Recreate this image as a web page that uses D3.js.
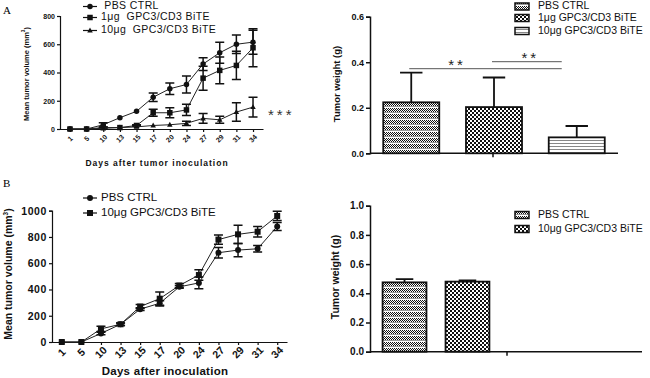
<!DOCTYPE html>
<html>
<head>
<meta charset="utf-8">
<script src="https://cdn.jsdelivr.net/npm/d3@7/dist/d3.min.js"></script>
<style>
	body { margin: 0; background: #fff; }
	svg { display: block; }
	.tick text { font-family: 'Liberation Sans', Arial, sans-serif; font-weight: bold; fill: #111; }
	.leg { font-family: 'Liberation Sans', Arial, sans-serif; fill: #111; }
	.ttl { font-family: 'Liberation Sans', Arial, sans-serif; font-weight: bold; fill: #111; }
	pattern rect { shape-rendering: crispEdges; }
</style>
</head>
<body>
<div id="chart"></div>
<script>
// ---- data ----
const days = [ '1', '5', '10', '13', '15', '17', '20', '24', '27', '29', '31', '34' ];

// panel A, growth curves
const pbsA = [ 0, 0, 30, 80, 125, 225, 285, 315, 460, 540, 600, 615 ];
const pbsAErr = [ 0, 0, 15, 0, 0, 30, 40, 60, 45, 75, 65, 85 ];
const bite1A = [ 0, 0, 10, 10, 25, 115, 115, 135, 360, 415, 450, 575 ];
const bite1AErr = [ 0, 0, 5, 0, 5, 25, 35, 40, 85, 95, 100, 135 ];
const bite10A = [ 0, 0, 5, 10, 15, 25, 30, 40, 75, 65, 120, 155 ];
const bite10AErr = [ 0, 0, 0, 0, 0, 0, 0, 15, 35, 25, 65, 70 ];
const yTicksA = [ 0, 200, 400, 600, 800 ];

// panel A, tumor weight
const groupsA = [ 'PBS CTRL', '1μg GPC3/CD3 BiTE', '10μg GPC3/CD3 BiTE' ];
const weightA = [ 0.224, 0.203, 0.07 ];
const weightAErr = [ 0.13, 0.13, 0.05 ];
const yTicksWA = [ 0, 0.2, 0.4, 0.6 ];

// panel B, growth curves
const pbsB = [ 0, 0, 65, 135, 250, 295, 420, 450, 680, 700, 710, 880 ];
const pbsBErr = [ 0, 0, 10, 10, 10, 20, 10, 45, 40, 50, 25, 30 ];
const bite10B = [ 0, 0, 100, 135, 270, 330, 430, 510, 780, 820, 840, 960 ];
const bite10BErr = [ 0, 0, 20, 10, 15, 50, 15, 40, 35, 70, 40, 35 ];
const yTicksB = [ 0, 200, 400, 600, 800, 1000 ];

// panel B, tumor weight
const groupsB = [ 'PBS CTRL', '10μg GPC3/CD3 BiTE' ];
const weightB = [ 0.475, 0.48 ];
const weightBErr = [ 0.022, 0.008 ];
const yTicksWB = [ 0, 0.2, 0.4, 0.6, 0.8, 1.0 ];

const sans = "'Liberation Sans', Arial, sans-serif";
const svg = d3.select('#chart').append('svg').attr('width', 650).attr('height', 378);

// fill patterns for the bars
const defs = svg.append('defs');
function pattern(id, w, h, build) {
	const p = defs.append('pattern').attr('id', id).attr('patternUnits', 'userSpaceOnUse').attr('width', w).attr('height', h);
	p.append('rect').attr('width', w).attr('height', h).attr('fill', '#fff');
	build(p);
}
pattern('patPBS', 2, 6, (p) => {
	[ 0, 1, 2, 3 ].forEach((r) => p.append('rect').attr('x', r % 2).attr('y', r).attr('width', 1).attr('height', 1).attr('fill', '#111'));
	p.append('rect').attr('x', 0).attr('y', 4).attr('width', 2).attr('height', 1).attr('fill', '#999');
});
pattern('patB1', 4, 4, (p) => {
	p.append('rect').attr('x', 0).attr('y', 0).attr('width', 2).attr('height', 2).attr('fill', '#111');
	p.append('rect').attr('x', 2).attr('y', 2).attr('width', 2).attr('height', 2).attr('fill', '#111');
});
pattern('patB10', 4, 3, (p) => {
	p.append('rect').attr('x', 0).attr('y', 2).attr('width', 4).attr('height', 1).attr('fill', '#888');
});

// panel letters
svg.append('text').attr('x', 3).attr('y', 14).style('font-family', 'Liberation Serif, serif').style('font-size', '11px').text('A');
svg.append('text').attr('x', 3).attr('y', 187).style('font-family', 'Liberation Serif, serif').style('font-size', '11px').text('B');

function marker(g, shape, cx, cy, s) {
	if (shape === 'circle') {
		g.append('circle').attr('cx', cx).attr('cy', cy).attr('r', s * 0.5).attr('fill', '#111');
	} else if (shape === 'square') {
		g.append('rect').attr('x', cx - s / 2).attr('y', cy - s / 2).attr('width', s).attr('height', s).attr('fill', '#111');
	} else {
		const h = s * 0.9;
		g.append('path').attr('d', `M${cx},${cy - h * 0.6}L${cx + s / 2},${cy + h * 0.4}L${cx - s / 2},${cy + h * 0.4}Z`).attr('fill', '#111');
	}
}

function lineChart(o) {
	const g = svg.append('g');
	const x = d3.scalePoint().domain(days).range(o.xRange).padding(o.pad);
	const y = d3.scaleLinear().domain([ 0, o.yMax ]).range(o.yRange);

	const ya = g.append('g').attr('transform', `translate(${o.xRange[0]},0)`)
		.call(d3.axisLeft(y).tickValues(o.yTicks).tickFormat(d3.format('d')).tickSize(3).tickPadding(2));
	ya.selectAll('text').style('font-size', o.tickFont + 'px').style('letter-spacing', o.tickSp + 'px');
	const xa = g.append('g').attr('transform', `translate(0,${o.yRange[0]})`)
		.call(d3.axisBottom(x).tickSize(3).tickSizeOuter(0));
	xa.selectAll('text').attr('y', 0).attr('dy', null)
		.style('font-size', o.tickFont + 'px')
		.attr('text-anchor', 'middle').attr('dominant-baseline', 'middle')
		.attr('transform', `translate(0,${o.xLabelOff}) rotate(-45)`);
	[ ya, xa ].forEach((a) => a.selectAll('path,line').attr('stroke', '#111').attr('stroke-width', 1.2));

	o.series.forEach((s) => {
		const pts = s.values.map((v, i) => ({ px: x(days[i]), py: y(v), v, e: s.err[i] }));
		g.append('path').attr('d', d3.line()(pts.map((p) => [ p.px, p.py ]))).attr('fill', 'none').attr('stroke', '#222').attr('stroke-width', 1);
		pts.forEach((p) => {
			if (p.e > 0) {
				const yt = y(p.v + p.e);
				const yb = y(Math.max(0, p.v - p.e));
				const c = o.cap / 2;
				g.append('path').attr('d', `M${p.px},${yt}V${yb}M${p.px - c},${yt}H${p.px + c}M${p.px - c},${yb}H${p.px + c}`)
					.attr('stroke', '#111').attr('stroke-width', 1.5).attr('fill', 'none');
			}
			marker(g, s.shape, p.px, p.py, o.mk);
		});
	});

	// legend
	o.series.forEach((s, i) => {
		const ly = o.legY[i];
		g.append('line').attr('x1', o.legX - 7).attr('x2', o.legX + 7).attr('y1', ly).attr('y2', ly).attr('stroke', '#111').attr('stroke-width', 1.2);
		marker(g, s.shape, o.legX, ly, o.mk);
		g.append('text').attr('class', 'leg').attr('x', o.legX + 11).attr('y', ly).attr('dominant-baseline', 'middle')
			.style('font-family', sans).style('font-size', o.legFont + 'px').style('letter-spacing', o.legSp + 'px')
			.style('white-space', 'pre').text(s.label);
	});

	g.append('text').attr('class', 'ttl').attr('transform', `translate(${o.yTitle[0]},${o.yTitle[1]}) rotate(-90)`)
		.attr('text-anchor', 'middle').attr('dominant-baseline', 'middle').style('font-size', o.titleFont + 'px')
		.html('Mean tumor volume (mm<tspan dy="-3" font-size="0.6em">3</tspan><tspan dy="3">)</tspan>');
	g.append('text').attr('class', 'ttl').attr('x', o.xTitle[0]).attr('y', o.xTitle[1]).attr('text-anchor', 'middle')
		.attr('dominant-baseline', 'middle').style('font-size', o.xTitleFont + 'px').style('letter-spacing', o.xTitleSp + 'px')
		.text(o.xTitleText);
	return { g, x, y };
}

function barChart(o) {
	const g = svg.append('g');
	const x = d3.scaleBand().domain(o.groups).range(o.xRange).paddingInner(o.pi).paddingOuter(o.po);
	const y = d3.scaleLinear().domain([ 0, o.yMax ]).range(o.yRange);
	const ya = g.append('g').attr('transform', `translate(${o.axisX},0)`)
		.call(d3.axisLeft(y).tickValues(o.yTicks).tickFormat(d3.format('.1f')).tickSize(4).tickPadding(2));
	ya.selectAll('text').style('font-size', o.tickFont + 'px');
	ya.selectAll('path,line').attr('stroke', '#111').attr('stroke-width', 1.5);
	g.append('line').attr('x1', o.axisX).attr('x2', o.axisEnd).attr('y1', o.yRange[0]).attr('y2', o.yRange[0]).attr('stroke', '#111').attr('stroke-width', 1.5);
	g.append('line').attr('x1', o.tickX).attr('x2', o.tickX).attr('y1', o.yRange[0]).attr('y2', o.yRange[0] + 4).attr('stroke', '#111').attr('stroke-width', 1.5);

	o.groups.forEach((grp, i) => {
		const bx = x(grp), bw = x.bandwidth(), cx = bx + bw / 2;
		const c = bw * 0.2;
		const yt = y(o.values[i] + o.err[i]);
		g.append('path').attr('d', `M${cx},${y(o.values[i])}V${yt}M${cx - c},${yt}H${cx + c}`).attr('stroke', '#111').attr('stroke-width', 1.8).attr('fill', 'none');
		g.append('rect').attr('x', bx).attr('y', y(o.values[i])).attr('width', bw).attr('height', y(0) - y(o.values[i]))
			.attr('fill', `url(#${o.pats[i]})`).attr('stroke', '#111').attr('stroke-width', 1.8);
	});

	o.groups.forEach((grp, i) => {
		const ly = o.legY[i];
		g.append('rect').attr('x', o.legX).attr('y', ly - 3.5).attr('width', 14).attr('height', 7)
			.attr('fill', `url(#${o.pats[i]})`).attr('stroke', '#111').attr('stroke-width', 1.5);
		g.append('text').attr('class', 'leg').attr('x', o.legX + 23).attr('y', ly).attr('dominant-baseline', 'middle')
			.style('font-family', sans).style('font-size', o.legFont + 'px').text(grp);
	});

	g.append('text').attr('class', 'ttl').attr('transform', `translate(${o.yTitle[0]},${o.yTitle[1]}) rotate(-90)`)
		.attr('text-anchor', 'middle').attr('dominant-baseline', 'middle').style('font-size', o.titleFont + 'px')
		.text('Tumor weight (g)');
	return { g, x, y };
}

// ---- panel A left ----
const aLeft = lineChart({
	xRange: [ 60, 263 ], pad: 0.6, yMax: 800, yRange: [ 129, 16 ], yTicks: yTicksA,
	tickFont: 7, tickSp: 0, xLabelOff: 10, cap: 9, mk: 5.5,
	series: [
		{ label: ' PBS CTRL', values: pbsA, err: pbsAErr, shape: 'circle' },
		{ label: '1μg  GPC3/CD3 BiTE', values: bite1A, err: bite1AErr, shape: 'square' },
		{ label: '10μg  GPC3/CD3 BiTE', values: bite10A, err: bite10AErr, shape: 'triangle' }
	],
	legX: 90, legY: [ 6.5, 17.5, 30.5 ], legFont: 10.5, legSp: 0.4,
	yTitle: [ 27, 74 ], titleFont: 7.5,
	xTitle: [ 157, 164 ], xTitleFont: 8.5, xTitleSp: 1, xTitleText: 'Days after tumor inoculation'
});
aLeft.g.append('text').attr('x', 268).attr('y', 120).style('font-family', sans)
	.style('font-size', '15px').style('letter-spacing', '3px').attr('fill', '#333').text('***');

// ---- panel A right ----
const aRight = barChart({
	groups: groupsA, values: weightA, err: weightAErr, pats: [ 'patPBS', 'patB1', 'patB10' ],
	xRange: [ 370, 618 ], pi: 0.323, po: 0.16, yMax: 0.6, yRange: [ 153.3, 16.7 ], yTicks: yTicksWA,
	axisX: 370, axisEnd: 618, tickX: 493, tickFont: 9,
	legX: 515, legY: [ 6.5, 18, 31 ], legFont: 10.5,
	yTitle: [ 337, 84 ], titleFont: 9.5
});
// significance brackets: [from group, to group, y, label position along line]
const sig = [ [ 0, 2, 68.7, 0.3 ], [ 1, 2, 61.7, 0.52 ] ];
sig.forEach((s) => {
	const xa = aRight.x(groupsA[s[0]]) + aRight.x.bandwidth() / 2 - 2;
	const xb = aRight.x(groupsA[s[1]]) + aRight.x.bandwidth() / 2 - 15;
	aRight.g.append('line').attr('x1', xa).attr('x2', xb).attr('y1', s[2]).attr('y2', s[2]).attr('stroke', '#555').attr('stroke-width', 1);
	aRight.g.append('text').attr('x', xa + (xb - xa) * s[3] + 2).attr('y', s[2] + 1).attr('text-anchor', 'middle')
		.style('font-family', sans).style('font-size', '15px').style('letter-spacing', '3px')
		.attr('fill', '#222').text('**');
});

// ---- panel B left ----
lineChart({
	xRange: [ 52, 287 ], pad: 0.5, yMax: 1000, yRange: [ 342, 210.7 ], yTicks: yTicksB,
	tickFont: 10.5, tickSp: 0.6, xLabelOff: 11, cap: 9, mk: 6,
	series: [
		{ label: 'PBS CTRL', values: pbsB, err: pbsBErr, shape: 'circle' },
		{ label: '10μg GPC3/CD3 BiTE', values: bite10B, err: bite10BErr, shape: 'square' }
	],
	legX: 90, legY: [ 198, 213 ], legFont: 11.5, legSp: 0,
	yTitle: [ 9, 274 ], titleFont: 10.5,
	xTitle: [ 165, 372 ], xTitleFont: 11.5, xTitleSp: 0.3, xTitleText: 'Days after inoculation'
});

// ---- panel B right ----
barChart({
	groups: groupsB, values: weightB, err: weightBErr, pats: [ 'patPBS', 'patB1' ],
	xRange: [ 370, 502 ], pi: 0.303, po: 0.2, yMax: 1, yRange: [ 351.7, 205.7 ], yTicks: yTicksWB,
	axisX: 370, axisEnd: 642, tickX: 507, tickFont: 10,
	legX: 515, legY: [ 215, 229 ], legFont: 10.5,
	yTitle: [ 336, 277 ], titleFont: 10.5
});
</script>
</body>
</html>
